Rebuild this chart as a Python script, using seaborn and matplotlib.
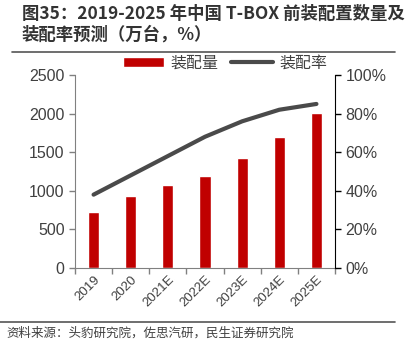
import numpy as np
import pandas as pd
import matplotlib
matplotlib.use('Agg')
import matplotlib.pyplot as plt
import seaborn as sns
from matplotlib.ticker import PercentFormatter, FixedLocator

years = ['2019', '2020', '2021E', '2022E', '2023E', '2024E', '2025E']
volume = [730, 935, 1070, 1190, 1430, 1700, 2010]
rate = [38, 48, 58, 68, 76, 82, 85]

sns.set_style('white')
plt.rcParams['font.family'] = ['Liberation Sans', 'Noto Sans CJK SC']

df = pd.DataFrame({'year': years, 'volume': volume, 'rate': rate})

fig = plt.figure(figsize=(4.07, 3.52), dpi=100)
ax = fig.add_axes([75 / 407, 1 - 268 / 352, 260 / 407, 193 / 352])

sns.barplot(data=df, x='year', y='volume', color='#C00000', width=0.3,
            saturation=1, ax=ax, label='装配量')
if ax.get_legend() is not None:
    ax.get_legend().remove()
ax.set_ylim(0, 2500)
ax.set_yticks(range(0, 2501, 500))
ax.set_xlabel('')
ax.set_ylabel('')

ax2 = ax.twinx()
ax2.plot(np.arange(len(years)), rate, color='#4a4a4a', lw=3, solid_capstyle='round',
         label='装配率')
ax2.set_ylim(0, 100)
ax2.set_yticks(range(0, 101, 20))
ax2.yaxis.set_major_formatter(PercentFormatter(decimals=0))
ax.set_xlim(-0.5, len(years) - 0.5)

for a in (ax, ax2):
    a.spines['top'].set_visible(False)
    a.tick_params(labelsize=11.5, colors='#404040', length=4, width=1)
ax.spines['right'].set_visible(False)
ax.spines['left'].set_color('#808080')
ax.spines['bottom'].set_color('#808080')
ax2.spines['left'].set_visible(False)
ax2.spines['bottom'].set_visible(False)
ax2.spines['right'].set_color('black')
ax.tick_params(axis='x', which='major', bottom=True, length=0, labelsize=9.5, pad=4)
ax.xaxis.set_minor_locator(FixedLocator(np.arange(-0.5, len(years), 1)))
ax.tick_params(axis='x', which='minor', bottom=True, length=4, width=1, color='#808080')
ax.tick_params(axis='y', left=True, direction='out', color='#808080')
ax2.tick_params(axis='y', right=True, direction='out', color='black')
plt.setp(ax.get_xticklabels(), rotation=45, ha='right', rotation_mode='anchor')
ax.grid(False)
ax2.grid(False)

h1, l1 = ax.get_legend_handles_labels()
h2, l2 = ax2.get_legend_handles_labels()
fig.legend(h1 + h2, l1 + l2, loc='center', bbox_to_anchor=(225 / 407, 1 - 63 / 352),
           ncol=2, frameon=False, fontsize=11.5, handlelength=2.6, handleheight=0.6,
           columnspacing=0.8, handletextpad=0.4, labelcolor='#404040')

fig.text(22 / 407, 1 - 24 / 352, '图35：2019-2025 年中国 T-BOX 前装配置数量及\n装配率预测（万台，%）',
         fontsize=12.5, fontweight='bold', color='#333333', va='center', ha='left',
         linespacing=1.15, family=['Noto Sans CJK SC', 'DejaVu Sans'])
fig.add_artist(plt.Line2D([12 / 407, 395 / 407], [1 - 52 / 352, 1 - 52 / 352],
                          color='#555555', lw=1.2))
fig.add_artist(plt.Line2D([0, 395 / 407], [1 - 322 / 352, 1 - 322 / 352],
                          color='#555555', lw=1.2))
fig.text(6 / 407, 1 - 333 / 352, '资料来源：头豹研究院，佐思汽研，民生证券研究院',
         fontsize=9, color='#404040', va='center', ha='left',
         family=['Noto Sans CJK SC', 'DejaVu Sans'])

fig.savefig('out.png', dpi=100)
